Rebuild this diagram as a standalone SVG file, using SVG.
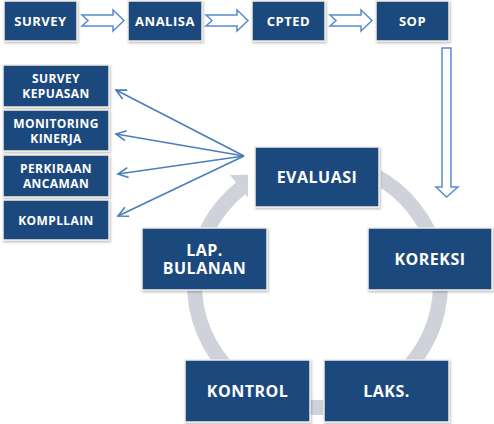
<svg xmlns="http://www.w3.org/2000/svg" width="494" height="424" viewBox="0 0 494 424">
<defs>
<style>
.box{fill:#1f497d;stroke:#efede2;stroke-width:1.5;filter:url(#sh)}
.t{fill:#fff;font-family:"Open Sans","DejaVu Sans",sans-serif;font-weight:bold;text-anchor:middle}
.big{font-size:16px;letter-spacing:0.5px}
.sm{font-size:13px;letter-spacing:0.5px}
.xs{font-size:12px;letter-spacing:0.4px}
.hol{fill:#fff;stroke:#5a8ad0;stroke-width:1.5;stroke-linejoin:miter}
.fan{stroke:#4a7ebb;stroke-width:1.6;fill:none;marker-end:url(#ah)}
</style>
<filter id="sh" x="-10%" y="-10%" width="125%" height="130%">
<feDropShadow dx="1" dy="1.5" stdDeviation="1" flood-color="#000" flood-opacity="0.25"/>
</filter>
<marker id="ah" markerWidth="14" markerHeight="14" refX="12" refY="7" orient="auto" markerUnits="userSpaceOnUse">
<path d="M2,2 L12,7 L2,12" fill="none" stroke="#4a7ebb" stroke-width="1.6"/>
</marker>
</defs>
<rect width="494" height="424" fill="#fff"/>
<g id="connectors">
<path d="M375.2,175.9 A123,123 0 1 1 240.7,188.4" fill="none" stroke="#cfd2db" stroke-width="15"/>
<polygon points="230,175 251.3,201.7 258,174.7" fill="#cfd2db"/>
<polygon class="hol" points="82,15 113,15 113,10 124,20.5 113,31 113,26 82,26 88,20.5"/>
<polygon class="hol" points="206,15 237,15 237,10 248,20.5 237,31 237,26 206,26 212,20.5"/>
<polygon class="hol" points="330,15 361,15 361,10 372,20.5 361,31 361,26 330,26 336,20.5"/>
<polygon class="hol" points="442,48 451,48 451,187 458,187 446.5,197 436,187 442,187"/>
<line class="fan" x1="244" y1="156" x2="116" y2="90"/>
<line class="fan" x1="244" y1="156" x2="116" y2="134"/>
<line class="fan" x1="244" y1="156" x2="118" y2="174"/>
<line class="fan" x1="244" y1="156" x2="118" y2="216"/>
</g>
<g id="survey"><rect class="box" x="4" y="1" width="73" height="40"/><text class="t sm" x="40.5" y="25.5">SURVEY</text></g>
<g id="analisa"><rect class="box" x="128" y="1" width="74" height="40"/><text class="t sm" x="165" y="25.5">ANALISA</text></g>
<g id="cpted"><rect class="box" x="252" y="1" width="73" height="40"/><text class="t sm" x="288.5" y="25.5">CPTED</text></g>
<g id="sop"><rect class="box" x="376" y="1" width="73" height="40"/><text class="t sm" x="412.5" y="25.5">SOP</text></g>
<g id="survey-kepuasan"><rect class="box" x="3" y="65" width="106" height="42"/><text class="t xs" x="56" y="83">SURVEY</text><text class="t xs" x="56" y="98">KEPUASAN</text></g>
<g id="monitoring-kinerja"><rect class="box" x="3" y="110" width="106" height="41"/><text class="t xs" x="56" y="127.5">MONITORING</text><text class="t xs" x="56" y="142.5">KINERJA</text></g>
<g id="perkiraan-ancaman"><rect class="box" x="3" y="155" width="106" height="42"/><text class="t xs" x="56" y="173">PERKIRAAN</text><text class="t xs" x="56" y="188">ANCAMAN</text></g>
<g id="kompllain"><rect class="box" x="3" y="200" width="106" height="40"/><text class="t xs" x="56" y="224.5">KOMPLLAIN</text></g>
<g id="evaluasi"><rect x="248" y="145" width="133" height="64" fill="#fff"/><rect class="box" x="255" y="147" width="124" height="60"/><text class="t big" x="317" y="183">EVALUASI</text></g>
<g id="koreksi"><rect class="box" x="368" y="228" width="124" height="62"/><text class="t big" x="430" y="265">KOREKSI</text></g>
<g id="lap-bulanan"><rect class="box" x="142" y="228" width="125" height="62"/><text class="t big" x="204.5" y="255.5">LAP.</text><text class="t big" x="204.5" y="273.5">BULANAN</text></g>
<g id="kontrol"><rect class="box" x="185" y="360" width="125" height="62"/><text class="t big" x="247.5" y="397">KONTROL</text></g>
<g id="laks"><rect class="box" x="324" y="360" width="125" height="62"/><text class="t big" x="386.5" y="397">LAKS.</text></g>
</svg>
